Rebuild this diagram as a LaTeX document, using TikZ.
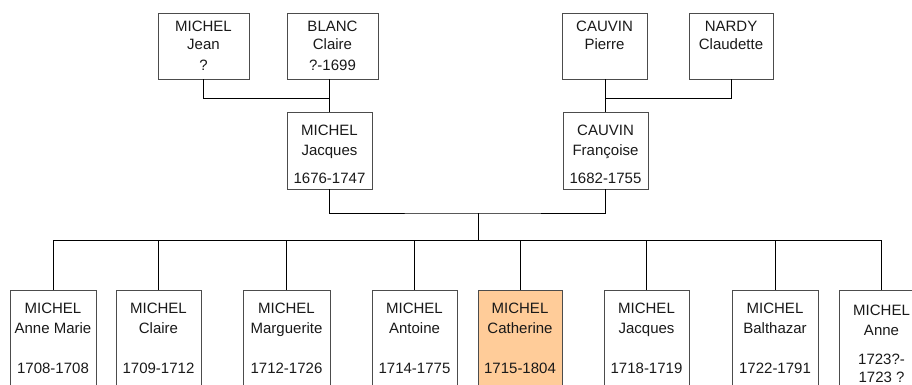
\documentclass[tikz,border=0pt]{standalone}
\usepackage{fontspec}
\setmainfont{Liberation Sans}
\usepackage{xcolor}
\definecolor{selfill}{HTML}{FFCC99}

\tikzset{
  pbox/.style={draw=black!70, line width=0.8pt, rectangle, inner sep=0pt, align=center, text=black!90, font=\fontsize{15}{20}\selectfont},
  topbox/.style={pbox, minimum height=66, font=\fontsize{15}{18}\selectfont},
  midbox/.style={pbox, minimum width=85, minimum height=77},
  kidbox/.style={pbox, minimum height=97},
  link/.style={draw=black, line width=0.8pt}
}

\begin{document}
\begin{tikzpicture}[x=1pt,y=-1pt]
\useasboundingbox (0,0) rectangle (912,385);
\clip (0,0) rectangle (912,385);

%grandparents
\node[topbox, minimum width=91] (jeanM) at (203.5,46) {MICHEL\\Jean\\[3pt]?};
\node[topbox, minimum width=91] (claireB) at (332.5,46) {BLANC\\Claire\\[3pt]?-1699};
\node[topbox, minimum width=85] (pierreC) at (604.5,46) {CAUVIN\\Pierre\\[3pt]\mbox{}};
\node[topbox, minimum width=84] (claudetteN) at (731,46) {NARDY\\Claudette\\[3pt]\mbox{}};

%parents
\node[midbox] (jacquesM) at (329.5,150.5) {\rule{0pt}{19pt}MICHEL\\Jacques\\[8pt]1676-1747};
\node[midbox] (francoiseC) at (605.5,150.5) {\rule{0pt}{19pt}CAUVIN\\Françoise\\[8pt]1682-1755};

%children
\node[kidbox, minimum width=86] (annemarie) at (53,338.5) {MICHEL\\Anne Marie\\[20pt]1708-1708};
\node[kidbox, minimum width=85] (claire) at (158.5,338.5) {MICHEL\\Claire\\[20pt]1709-1712};
\node[kidbox, minimum width=87] (marguerite) at (286.5,338.5) {MICHEL\\Marguerite\\[20pt]1712-1726};
\node[kidbox, minimum width=85] (antoine) at (414.5,338.5) {MICHEL\\Antoine\\[20pt]1714-1775};
\node[kidbox, minimum width=84, fill=selfill] (catherine) at (520,338.5) {MICHEL\\Catherine\\[20pt]1715-1804};
\node[kidbox, minimum width=85] (jacques) at (646.5,338.5) {MICHEL\\Jacques\\[20pt]1718-1719};
\node[kidbox, minimum width=86] (balthazar) at (775,338.5) {MICHEL\\Balthazar\\[20pt]1722-1791};
\node[kidbox, minimum width=85, minimum height=107] (anne) at (881.5,343.5) {MICHEL\\Anne\\[9pt]1723?-\\[-2pt]1723 ?};

%links between generations
\coordinate (mbjoin) at (329.5,98);
\coordinate (cnjoin) at (605.5,98);
\coordinate (pjoin) at (478,213);
\coordinate (bus) at (478,240);
\draw[link] (jeanM.south) |- (mbjoin);
\draw[link] (claireB.south -| jacquesM.north) -- (jacquesM.north);
\draw[link] (pierreC.south -| francoiseC.north) -- (francoiseC.north);
\draw[link] (claudetteN.south) |- (cnjoin);
\draw[link] (jacquesM.south) |- (pjoin) -| (francoiseC.south);
\draw[link] (pjoin) -- (bus);
\draw[link] (annemarie.north |- bus) -- (anne.north |- bus);
\draw[link] (annemarie.north) -- (annemarie.north |- bus);
\draw[link] (claire.north) -- (claire.north |- bus);
\draw[link] (marguerite.north) -- (marguerite.north |- bus);
\draw[link] (antoine.north) -- (antoine.north |- bus);
\draw[link] (catherine.north) -- (catherine.north |- bus);
\draw[link] (jacques.north) -- (jacques.north |- bus);
\draw[link] (balthazar.north) -- (balthazar.north |- bus);
\draw[link] (anne.north) -- (anne.north |- bus);
\end{tikzpicture}
\end{document}
